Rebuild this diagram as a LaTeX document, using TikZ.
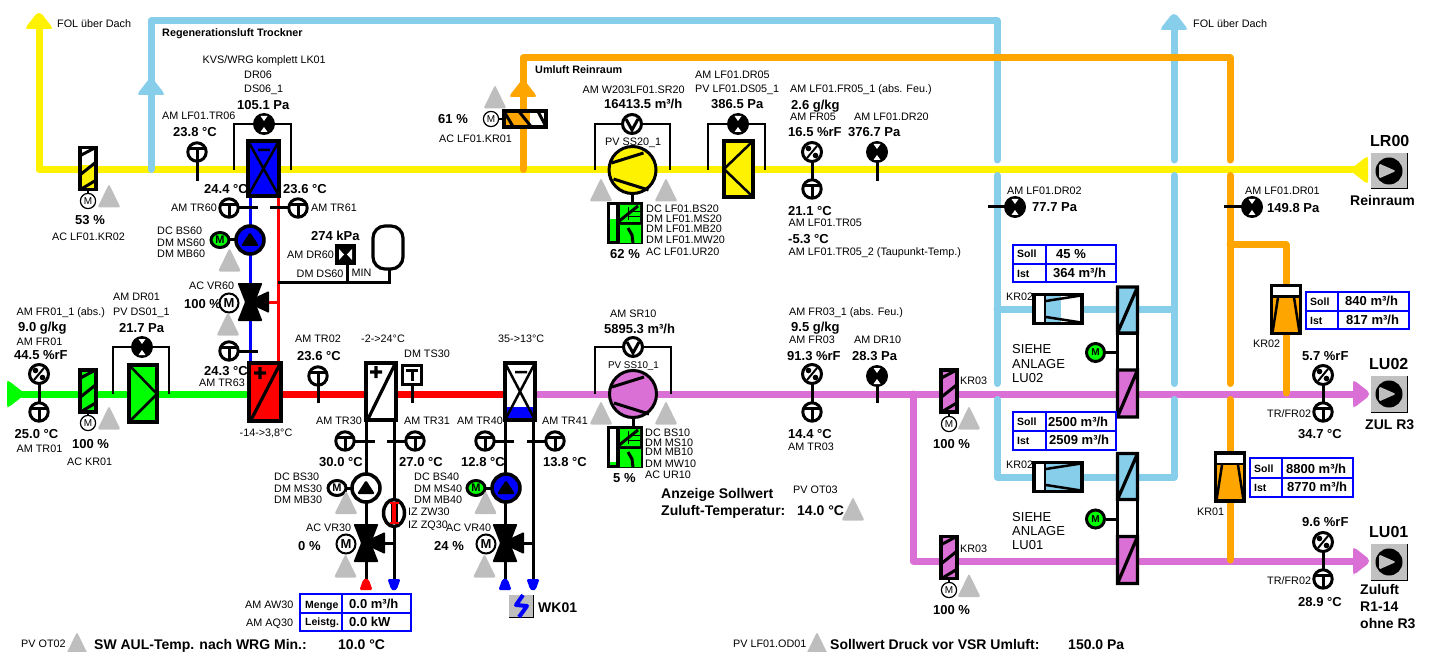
\documentclass[tikz,border=0pt]{standalone}
\usepackage{fontspec}
\setmainfont{Liberation Sans}
\definecolor{airsky}{HTML}{87CEEB}
\definecolor{airorange}{HTML}{FFA500}
\definecolor{airpink}{HTML}{DA70D6}
\definecolor{airgreen}{HTML}{00FF00}
\definecolor{pipeblue}{HTML}{0000FF}
\definecolor{pipered}{HTML}{FF0000}
\definecolor{warngray}{HTML}{BEBEBE}
\tikzset{
  pics/warn/.style={code={\fill[warngray,rounded corners=2pt] (-11.5,11.5) -- (11.5,11.5) -- (0,-12) -- cycle;}},
  pics/tip/.style={code={\fill[#1,rounded corners=2pt] (-13,16) -- (-13,14) -- (-2,0) -- (2,0) -- (13,14) -- (13,16) -- cycle;}},
  pics/ptip/.style={code={\fill[#1,rounded corners=1.5pt] (-6.5,12) -- (-3,2) -- (0,0) -- (3,2) -- (6.5,12) -- cycle;}},
  pics/tsens/.style={code={\draw[line width=3pt,fill=white] (0,0) circle[radius=9.2];
    \draw[line width=3pt] (-7,-3.5) -- (7,-3.5) (0,-3.5) -- (0,8);}},
  pics/tsquare/.style={code={\draw[line width=3pt,fill=white] (-9.5,-9.5) rectangle (9.5,9.5);
    \draw[line width=3pt] (-6,-4.5) -- (6,-4.5) (0,-4.5) -- (0,6);}},
  pics/hsens/.style={code={\draw[line width=3pt,fill=white] (0,0) circle[radius=9.5];
    \draw[line width=2pt] (5,-6) -- (-5,6);
    \fill (-3.5,-3.5) circle[radius=2.8] (3.5,3.5) circle[radius=2.8];}},
  pics/dsens/.style={code={\fill (0,0) circle[radius=11];
    \fill[white] (-3.5,-8) -- (3.5,-8) -- (0,-3) -- cycle (-3.5,8) -- (3.5,8) -- (0,3) -- cycle;}},
  pics/vsens/.style={code={\draw[line width=3pt,fill=white] (0,0) circle[radius=9.5];
    \draw[line width=3pt] (-6,-5) -- (0,6) -- (6,-5);}},
  pics/motthin/.style={code={\draw[line width=1.2pt,fill=white] (0,0) circle[radius=7.6];
    \node[inner sep=0pt,font=\fontsize{10}{10}\selectfont] (mt) at (0,0) {M};}},
  pics/motvalve/.style={code={\draw[line width=2pt,fill=white] (0,0) circle[radius=9.5];
    \node[inner sep=0pt,font=\fontsize{13}{13}\selectfont\bfseries] (mv) at (0,0) {M};}},
  pics/motpump/.style={code={\draw[line width=3pt,fill=#1] (0,0) ellipse[x radius=9,y radius=7.5];
    \node[inner sep=0pt,font=\fontsize{11}{11}\selectfont\bfseries] (mp) at (0,0) {M};}},
  pics/pump/.style={code={\draw[line width=3.5pt,fill=#1] (0,0) circle[radius=14];
    \fill[rounded corners=1.5pt] (-9,6) -- (9,6) -- (0,-8) -- cycle;}},
  pics/valve/.style={code={\fill[rounded corners=1pt] (-12.5,-19) -- (12.5,-19) -- (5,0) -- (12.5,19) -- (-12.5,19) -- (-5,0) -- cycle;
    \fill[rounded corners=1pt] (2,-3) -- (19,-11) -- (19,11) -- (2,3) -- cycle;}},
  pics/damper/.style 2 args={code={\fill[white] (-8,-21) rectangle (8,21);
    \fill[#1] (-8,21) rectangle (8,21-#2);
    \draw[line width=3pt] (-7.5,-13) -- (7.5,-21) (-7.5,6) -- (7.5,-6) (-7.5,21) -- (7.5,12);
    \draw[line width=3.2pt] (-8,-21) rectangle (8,21);}},
  pics/vsr/.style 2 args={code={\fill[white] (-14,-24) rectangle (14,24);
    \fill[#1] (-14,-13) rectangle (14,-13+#2);
    \draw[line width=2.5pt] (-8,-12) -- (-13.5,23) (8,-12) -- (13.5,23);
    \draw[line width=2.5pt] (-14,-13) -- (14,-13);
    \draw[line width=3.2pt] (-14.5,-24) rectangle (14.5,24);}},
  pics/fan/.style={code={\draw[line width=3pt,fill=#1] (0,0) circle[radius=23.5];
    \draw[line width=3pt] (-21,-7) -- (11,-17) (-19,9) -- (16,20);}},
  pics/convblock/.style={code={\fill (0,0) rectangle (36,42);
    \fill[white] (3,3) rectangle (9,39);
    \fill[airgreen] (3,39) rectangle (9,39-#1);
    \fill[airgreen] (13,3) rectangle (33,20) (13,23) rectangle (34,41);
    \draw[line width=.8pt] (21,5) -- (21,18) (21,9) -- (33,9) (21,14) -- (33,14);
    \draw[line width=3pt] (11,20) -- (31,4);
    \draw[line width=3pt] (21,26) -- (25,33) -- (26,41);}},
  pics/stack/.style={code={\draw[line width=3pt] (-12,65.5) -- (0,65.5);
    \draw[line width=3pt,fill=white] (0,46) rectangle (20,83);
    \fill[airsky] (0,0) rectangle (20,46);
    \fill[airpink] (0,83) rectangle (20,130);
    \draw[line width=3.2pt] (0,0) rectangle (20,46) (0,46) -- (20,0) (0,83) rectangle (20,130) (0,130) -- (20,83);
    \draw[line width=3pt,fill=airgreen] (-22,65.5) circle[radius=9];
    \node[inner sep=0pt,font=\fontsize{10}{10}\selectfont\bfseries] (ms) at (-22,65.5) {M};}},
  pics/fanbox/.style={code={\fill[warngray!95!white] (-18,-18) rectangle (18,18);
    \draw[line width=1pt] (18,-18) -- (18,18) -- (-18,18);
    \fill (0,0) circle[radius=13.5];
    \fill[warngray,rounded corners=1.5pt] (-10,-7.5) -- (7,0) -- (-10,7.5) -- cycle;}},
}
\begin{document}
\begin{tikzpicture}[x=1pt,y=-1pt,
  lbl/.style={anchor=west,inner sep=0pt,text height=7.8pt,text depth=0pt,font=\fontsize{10.8}{12}\selectfont},
  lblsm/.style={lbl,font=\fontsize{9.8}{11}\selectfont},
  val/.style={anchor=west,inner sep=0pt,text height=9.3pt,text depth=0pt,font=\fontsize{13}{14}\selectfont\bfseries},
  big/.style={val,text height=10pt,font=\fontsize{14}{15}\selectfont\bfseries},
  ttl/.style={val,text height=11.5pt,font=\fontsize{16}{17}\selectfont\bfseries},
  hdr/.style={anchor=west,inner sep=0pt,text height=7.4pt,text depth=0pt,font=\fontsize{10.5}{11}\selectfont\bfseries},
  sect/.style={hdr,font=\fontsize{10.8}{12}\selectfont\bfseries},
  sie/.style={anchor=west,inner sep=0pt,text height=9.3pt,text depth=0pt,font=\fontsize{13}{14}\selectfont},
  duct/.style={line width=7pt,line cap=round,line join=round},
  pipe/.style={line width=3pt},
  stem/.style={line width=3pt},
  bracket/.style={line width=1.8pt},
  coil/.style={line width=3.6pt},
  tablebox/.style={line width=2pt,draw=pipeblue,fill=white}]
\useasboundingbox (0,0) rectangle (1431,652);
% air ducts
\draw[duct,yellow] (39,30) -- (39,170) -- (1360,170);
\draw[duct,airgreen] (22,394) -- (250,394);
\draw[duct,pipered] (280,394) -- (506,394);
\draw[duct,airpink] (533,394) -- (1358,394);
\draw[duct,airpink] (913,394) -- (913,561) -- (1358,561);
\draw[duct,airsky] (151,169.5) -- (151,21) -- (997,21) -- (997,160);
\draw[duct,airsky] (997,175.5) -- (997,383.5);
\draw[duct,airsky] (997,399.5) -- (997,477) -- (1174,477) -- (1174,399.5);
\draw[duct,airsky] (1174,383.5) -- (1174,175.5);
\draw[duct,airsky] (1174,160) -- (1174,25);
\draw[duct,airsky] (997,309) -- (1174,309);
\draw[duct,airorange] (523,169.5) -- (523,58) -- (1230,58) -- (1230,160);
\draw[duct,airorange] (1230,175.5) -- (1230,383.5);
\draw[duct,airorange] (1230,399.5) -- (1230,560);
\draw[duct,airorange] (1230,245) -- (1286,245) -- (1286,393);
\pic at (39,13) {tip=yellow};
\pic at (151,79) {tip=airsky};
\pic at (1174,14) {tip=airsky};
\pic at (523,81) {tip=airorange};
\pic[rotate=90] at (1352,170) {tip=yellow}; % air back from the room
\pic[rotate=-90] at (23,394) {tip=airgreen};
\pic[rotate=-90] at (1369,394) {tip=airpink};
\pic[rotate=-90] at (1369,561) {tip=airpink};
% water pipes
\draw[pipe,pipeblue] (250,197) -- (250,362);
\draw[pipe,pipered] (278,197) -- (278,362);
\draw[pipe,pipered] (262,302) -- (278,302);
\draw[pipe] (278,282) -- (389,282) -- (389,268);
\draw[pipe] (347,262) -- (347,282);
\draw[pipe] (366,421) -- (366,580);
\draw[pipe] (394,421) -- (394,580);
\draw[pipe] (505,421) -- (505,580);
\draw[pipe] (533,421) -- (533,580);
\draw[pipe] (380,543) -- (394,543);
\draw[pipe] (520,543) -- (533,543);
\draw[pipe] (229,240) -- (240,240) (345,488) -- (355,488) (484,488) -- (495,488);
\pic at (366,578) {ptip=pipered};
\pic[rotate=180] at (394,591) {ptip=pipeblue};
\pic at (505,578) {ptip=pipeblue};
\pic[rotate=180] at (533,591) {ptip=pipeblue};
% sensors, stems first
\coordinate (tr06) at (197,152);
\coordinate (tr60) at (229,208);
\coordinate (tr61) at (298,208);
\coordinate (tr63) at (229,351);
\coordinate (fr01) at (39,374);
\coordinate (tr01) at (39,412);
\coordinate (dr01) at (142,347);
\coordinate (dr06) at (264,124);
\coordinate (tr02) at (318,376);
\coordinate (ts30) at (412,375);
\coordinate (tr30) at (345,441);
\coordinate (tr31) at (415,441);
\coordinate (tr40) at (485,441);
\coordinate (tr41) at (555,441);
\coordinate (ss20) at (632,124);
\coordinate (dr05) at (738,124);
\coordinate (fr05) at (812,152);
\coordinate (tr05) at (812,189);
\coordinate (dr20) at (877,152);
\coordinate (ss10) at (633,347);
\coordinate (fr03) at (812,374);
\coordinate (tr03) at (812,412);
\coordinate (dr10) at (877,376);
\coordinate (lfdr02) at (1015,207);
\coordinate (lfdr01) at (1252,207);
\coordinate (fr21) at (1323,375);
\coordinate (tr21) at (1323,412);
\coordinate (fr22) at (1323,542);
\coordinate (tr22) at (1323,579);
\draw[stem] (tr06) -- ++(0,29);
\draw[stem] (tr60) -- ++(29,0);
\draw[stem] (tr61) -- ++(-28,0);
\draw[stem] (tr63) -- ++(29,0);
\draw[stem] (fr01) -- (tr01);
\draw[stem] (tr02) -- ++(0,27);
\draw[stem] (ts30) -- ++(0,28);
\draw[stem] (tr30) -- ++(30,0);
\draw[stem] (tr31) -- ++(-28,0);
\draw[stem] (tr40) -- ++(29,0);
\draw[stem] (tr41) -- ++(-28,0);
\draw[stem] (fr05) -- (tr05);
\draw[stem] (dr20) -- ++(0,29);
\draw[stem] (fr03) -- (tr03);
\draw[stem] (dr10) -- ++(0,27);
\draw[stem] (lfdr02) -- ++(-27,0);
\draw[stem] (lfdr01) -- ++(-28,0);
\draw[stem] (fr21) -- (tr21);
\draw[stem] (fr22) -- (tr22);
\draw[bracket] (234,170) |- (dr06) -| (291,170);
\draw[bracket] (113,394) |- (dr01) -| (169,394);
\draw[bracket] (595,170) |- (ss20) -| (670,170);
\draw[bracket] (708,170) |- (dr05) -| (765,170);
\draw[bracket] (595,394) |- (ss10) -| (671,394);
\foreach \s in {tr06,tr60,tr61,tr63,tr01,tr02,tr30,tr31,tr40,tr41,tr05,tr03,tr21,tr22} \pic at (\s) {tsens};
\foreach \s in {fr01,fr05,fr03,fr21,fr22} \pic at (\s) {hsens};
\foreach \s in {dr01,dr06,dr05,dr20,dr10,lfdr02,lfdr01} \pic at (\s) {dsens};
\foreach \s in {ss20,ss10} \pic at (\s) {vsens};
\pic at (ts30) {tsquare};
% dampers
\pic at (88,168.5) {damper={yellow}{24}};
\pic at (88,391) {damper={airgreen}{42}};
\pic[rotate=-90] at (525,119) {damper={airorange}{26}};
\pic at (949,391) {damper={airpink}{42}};
\pic at (949,557.5) {damper={airpink}{42}};
\draw[line width=1.2pt] (88,190) -- (88,194) (88,412) -- (88,416) (949,412) -- (949,416) (949,578) -- (949,582) (498,119) -- (503,119);
\pic at (88,201) {motthin};
\pic at (88,423) {motthin};
\pic at (491,119) {motthin};
\pic at (949,424) {motthin};
\pic at (949,590) {motthin};
\pic[rotate=90] at (1058,309) {vsr={airsky}{16}};
\pic[rotate=90] at (1058,477) {vsr={airsky}{37}};
\pic at (1286,309.5) {vsr={airorange}{37}};
\pic at (1230,477) {vsr={airorange}{37}};
% coils and filters
\draw[coil,fill=airgreen] (129,365) rectangle (157,422);
\draw[line width=2.5pt] (129,365) -- (157,394) -- (129,422);
\draw[coil,fill=yellow] (724,141) rectangle (753,197);
\draw[line width=2.5pt] (753,141) -- (724,169) -- (753,197);
\draw[coil,fill=pipeblue] (248,141) rectangle (279,196);
\draw[line width=2.5pt] (248,141) -- (279,196) (279,141) -- (248,196) (258,150) -- (270,150);
\draw[coil,fill=pipered] (249,363) rectangle (281,421);
\draw[line width=3.2pt] (251,420) -- (280,364) (254,373) -- (266,373) (260,367) -- (260,379);
\draw[coil,fill=white] (366,363) rectangle (396,420);
\draw[line width=3.2pt] (368,419) -- (395,364) (370,372) -- (382,372) (376,366) -- (376,378);
\fill[white] (505,363) rectangle (535,407);
\fill[pipeblue] (505,407) rectangle (535,420);
\draw[coil] (505,363) rectangle (535,420);
\draw[line width=2.5pt] (505,363) -- (535,420) (535,363) -- (505,420) (515,372) -- (527,372);
% fans with their converters
\pic at (632.5,170) {fan=yellow};
\pic at (633,394) {fan=airpink};
\draw[pipe] (632.5,193) -- (632.5,203) (633,418) -- (633,426);
\pic at (607,202) {convblock=22};
\pic at (607,426) {convblock=3};
% pumps, valves, vessel
\pic at (250,240) {pump=pipeblue};
\pic at (366,488) {pump=white};
\pic at (506,488) {pump=pipeblue};
\pic at (220,240) {motpump=airgreen};
\pic at (337,488) {motpump=white};
\pic at (476,488) {motpump=airgreen};
\pic at (250,302) {valve};
\pic at (366,543) {valve};
\pic at (505,543) {valve};
\pic at (229,303) {motvalve};
\pic at (346,544) {motvalve};
\pic at (486,544) {motvalve};
\draw[line width=3.2pt,fill=white,rounded corners=12pt] (373,226) rectangle (403,269);
\fill (335,244) rectangle (356,265);
\fill[white] (339,249) -- (339,260) -- (344,254.5) -- cycle (352,249) -- (352,260) -- (347,254.5) -- cycle;
\draw[line width=3.5pt,fill=white] (394,513) ellipse[x radius=10.5,y radius=13.5];
\draw[line width=7pt] (394,504) -- (394,522);
\draw[line width=4pt,pipered] (394,503) -- (394,523);
\draw[line width=1.8pt,pipered] (389.5,503) -- (398.5,503) (389.5,523) -- (398.5,523);
% air handling stacks
\pic at (1117.5,287) {stack};
\pic at (1117.5,453.5) {stack};
% outlet boxes
\pic at (1389,171) {fanbox};
\pic at (1389,394) {fanbox};
\pic at (1389,562) {fanbox};
\fill[warngray] (509,595) rectangle (533,617);
\draw[line width=1pt] (533,595) -- (533,617) -- (509,617);
\draw[line width=4pt,pipeblue,line join=round] (523,595) -- (516,605) -- (527,606) -- (519,617);
% flow tables
\draw[tablebox] (300,594) rectangle (411,631) (300,612.5) -- (411,612.5) (342,594) -- (342,631);
\draw[tablebox] (1013,245) rectangle (1116,282) (1013,263.5) -- (1116,263.5) (1046,245) -- (1046,282);
\draw[tablebox] (1013,412) rectangle (1116,450) (1013,431) -- (1116,431) (1046,412) -- (1046,450);
\draw[tablebox] (1306,292) rectangle (1409,329) (1306,310.5) -- (1409,310.5) (1338,292) -- (1338,329);
\draw[tablebox] (1250,458) rectangle (1353,497) (1250,477.5) -- (1353,477.5) (1282,458) -- (1282,497);
% warning triangles
\foreach \x/\y in {109/196,229.5/260,228/324,109/418,495/97,601/190,666/190,601/413,666/413,346/502.5,345.5/566,485.5/502.5,484.5/566,969/418,969/585.5,853/509,77/644,817/644}
  \pic at (\x,\y) {warn};
% texts left part
\node[lbl] (folA) at (57,23.5) {FOL über Dach};
\node[lbl] (folB) at (1193,23.5) {FOL über Dach};
\node[sect] (regen) at (162,33) {Regenerationsluft Trockner};
\node[sect] (umluft) at (535,70) {Umluft Reinraum};
\node[lbl] (kvs) at (202.5,60) {KVS/WRG komplett LK01};
\node[lbl] (dr06a) at (244,74.5) {DR06};
\node[lbl] (ds06) at (244,89) {DS06\_1};
\node[val] (dr06v) at (237,104.5) {105.1 Pa};
\node[lbl] (tr06a) at (162,116) {AM LF01.TR06};
\node[val] (tr06v) at (173,131.5) {23.8 °C};
\node[val] (tr60v) at (204,189) {24.4 °C};
\node[val] (tr61v) at (283,189) {23.6 °C};
\node[lbl] (tr60a) at (171,208) {AM TR60};
\node[lbl] (tr61a) at (311,208) {AM TR61};
\node[lbl] (bs60) at (157,231) {DC BS60};
\node[lbl] (ms60) at (157,242.5) {DM MS60};
\node[lbl] (mb60) at (157,253.5) {DM MB60};
\node[val] (kr02v) at (75,220) {53 \%};
\node[lbl] (kr02a) at (52,237) {AC LF01.KR02};
\node[val] (dr60v) at (311,236) {274 kPa};
\node[lbl] (dr60a) at (287,254.5) {AM DR60};
\node[lbl] (ds60a) at (296.5,274) {DM DS60};
\node[lbl] (min) at (351.5,273) {MIN};
\node[lbl] (vr60a) at (189,285.5) {AC VR60};
\node[val] (vr60v) at (184,304) {100 \%};
\node[lbl] (dr01a) at (113,297) {AM DR01};
\node[lbl] (ds01a) at (113,312) {PV DS01\_1};
\node[lbl] (fr01b) at (16.5,312) {AM FR01\_1 (abs.)};
\node[val] (fr01w) at (18,327) {9.0 g/kg};
\node[lbl] (fr01a) at (16.5,342) {AM FR01};
\node[val] (fr01v) at (14,355) {44.5 \%rF};
\node[val] (dr01v) at (119,328) {21.7 Pa};
\node[val] (tr01v) at (14.5,434) {25.0 °C};
\node[lbl] (tr01a) at (16.5,449) {AM TR01};
\node[val] (kr01v) at (72,444) {100 \%};
\node[lbl] (kr01a) at (67,462) {AC KR01};
\node[val] (tr63v) at (204,371) {24.3 °C};
\node[lbl] (tr63a) at (199,383) {AM TR63};
\node[lbl] (rng1) at (239.5,433) {-14->3,8°C};
% texts middle part
\node[lbl] (tr02a) at (295,339) {AM TR02};
\node[val] (tr02v) at (297,355.5) {23.6 °C};
\node[lbl] (rng2) at (361,339) {-2->24°C};
\node[lbl] (rng3) at (498,339) {35->13°C};
\node[lbl] (ts30a) at (404,354) {DM TS30};
\node[lbl] (tr30a) at (316,421) {AM TR30};
\node[lbl] (tr31a) at (404,421) {AM TR31};
\node[lbl] (tr40a) at (457,421) {AM TR40};
\node[lbl] (tr41a) at (542,421) {AM TR41};
\node[val] (tr30v) at (319,462) {30.0 °C};
\node[val] (tr31v) at (399,462) {27.0 °C};
\node[val] (tr40v) at (461,462) {12.8 °C};
\node[val] (tr41v) at (543,462) {13.8 °C};
\node[lbl] (bs30) at (274,477) {DC BS30};
\node[lbl] (ms30) at (274,489) {DM MS30};
\node[lbl] (mb30) at (274,500) {DM MB30};
\node[lbl] (bs40) at (414,477) {DC BS40};
\node[lbl] (ms40) at (414,489) {DM MS40};
\node[lbl] (mb40) at (414,500) {DM MB40};
\node[lbl] (zw30) at (408,512) {IZ ZW30};
\node[lbl] (zq30) at (408,525) {IZ ZQ30};
\node[lbl] (vr30a) at (306,528) {AC VR30};
\node[val] (vr30v) at (298,546) {0 \%};
\node[lbl] (vr40a) at (446,528) {AC VR40};
\node[val] (vr40v) at (434,546) {24 \%};
\node[lbl] (aw30) at (245,605) {AM AW30};
\node[lbl] (aq30) at (246,623) {AM AQ30};
\node[hdr] (menge) at (305,604.5) {Menge};
\node[hdr] (leist) at (305,622) {Leistg.};
\node[val] (mengev) at (349,604) {0.0 m³/h};
\node[val] (leistv) at (349,622) {0.0 kW};
\node[big] (wk01) at (538,607) {WK01};
\node[lbl] (ot02) at (21,644) {PV OT02};
\node[big] (swaul) at (94,644) {SW AUL-Temp. nach WRG Min.:};
\node[big] (ot02v) at (338,644) {10.0 °C};
\node[lbl] (od01) at (733,644) {PV LF01.OD01};
\node[big] (swdr) at (830,644) {Sollwert Druck vor VSR Umluft:};
\node[big] (od01v) at (1068,644) {150.0 Pa};
% texts round the fans
\node[val] (kr01w) at (438,119) {61 \%};
\node[lbl] (kr01b) at (439,139) {AC LF01.KR01};
\node[lbl] (sr20a) at (582.5,90) {AM W203LF01.SR20};
\node[val] (sr20v) at (604,104) {16413.5 m³/h};
\node[lbl] (dr05a) at (695,75) {AM LF01.DR05};
\node[lbl] (ds05a) at (695,89) {PV LF01.DS05\_1};
\node[val] (dr05v) at (711,104) {386.5 Pa};
\node[lbl] (fr05b) at (790,89) {AM LF01.FR05\_1 (abs. Feu.)};
\node[val] (fr05w) at (791,105) {2.6 g/kg};
\node[lbl] (fr05a) at (790,117) {AM FR05};
\node[val] (fr05v) at (788,132) {16.5 \%rF};
\node[lbl] (dr20a) at (854,117) {AM LF01.DR20};
\node[val] (dr20v) at (848,132) {376.7 Pa};
\node[lbl] (ss20a) at (605,142) {PV SS20\_1};
\node[val] (tr05v) at (788,211) {21.1 °C};
\node[lbl] (tr05a) at (788.5,223) {AM LF01.TR05};
\node[val] (tr05w) at (788,239) {-5.3 °C};
\node[lbl] (tr05b) at (788.5,252) {AM LF01.TR05\_2 (Taupunkt-Temp.)};
\node[val] (ur20v) at (610,254) {62 \%};
\node[lbl] (bs20) at (646,209) {DC LF01.BS20};
\node[lbl] (ms20) at (646,219) {DM LF01.MS20};
\node[lbl] (mb20) at (646,229) {DM LF01.MB20};
\node[lbl] (mw20) at (646,240) {DM LF01.MW20};
\node[lbl] (ur20) at (646,252) {AC LF01.UR20};
\node[lbl] (sr10a) at (610,314) {AM SR10};
\node[val] (sr10v) at (604,329) {5895.3 m³/h};
\node[lblsm] (ss10a) at (608,365) {PV SS10\_1};
\node[lbl] (bs10) at (645,433) {DC BS10};
\node[lbl] (ms10) at (645,443) {DM MS10};
\node[lbl] (mb10) at (645,452) {DM MB10};
\node[lbl] (mw10) at (645,464) {DM MW10};
\node[lbl] (ur10) at (645,475) {AC UR10};
\node[val] (ur10v) at (613,478) {5 \%};
\node[lbl] (fr03b) at (789,312) {AM FR03\_1 (abs. Feu.)};
\node[val] (fr03w) at (791,327) {9.5 g/kg};
\node[lbl] (fr03a) at (789,340) {AM FR03};
\node[val] (fr03v) at (787,356) {91.3 \%rF};
\node[lbl] (dr10a) at (854,340) {AM DR10};
\node[val] (dr10v) at (852,356) {28.3 Pa};
\node[val] (tr03v) at (788,434) {14.4 °C};
\node[lbl] (tr03a) at (788,447) {AM TR03};
\node[lbl] (kr03a) at (960,381) {KR03};
\node[val] (kr03v) at (933,444) {100 \%};
\node[lbl] (kr03b) at (960,549) {KR03};
\node[val] (kr03w) at (933,610) {100 \%};
\node[big] (anz) at (661,493) {Anzeige Sollwert};
\node[big] (zul) at (661,510) {Zuluft-Temperatur:};
\node[big] (ot03v) at (797,510) {14.0 °C};
\node[lbl] (ot03) at (793,490) {PV OT03};
% texts right part
\node[lbl] (lfdr02a) at (1007,191) {AM LF01.DR02};
\node[val] (lfdr02v) at (1032,207) {77.7 Pa};
\node[lbl] (lfdr01a) at (1245,191) {AM LF01.DR01};
\node[val] (lfdr01v) at (1267,208) {149.8 Pa};
\node[hdr] (sollA) at (1017,254) {Soll};
\node[hdr] (istA) at (1017,274) {Ist};
\node[val] (sollAv) at (1056,254) {45 \%};
\node[val] (istAv) at (1053,273) {364 m³/h};
\node[lbl] (kr02b) at (1006,297) {KR02};
\node[sie] (sieA) at (1012,349) {SIEHE};
\node[sie] (anlA) at (1012,364) {ANLAGE};
\node[sie] (luA) at (1012,378) {LU02};
\node[hdr] (sollB) at (1017,422) {Soll};
\node[hdr] (istB) at (1017,441) {Ist};
\node[val] (sollBv) at (1048,422) {2500 m³/h};
\node[val] (istBv) at (1049,440) {2509 m³/h};
\node[lbl] (kr02c) at (1006,465) {KR02};
\node[sie] (sieB) at (1012,517) {SIEHE};
\node[sie] (anlB) at (1012,531) {ANLAGE};
\node[sie] (luB) at (1012,545) {LU01};
\node[ttl] (lr00) at (1370,141) {LR00};
\node[big] (reinr) at (1350,201) {Reinraum};
\node[lbl] (kr02d) at (1253,344) {KR02};
\node[hdr] (sollC) at (1310,302) {Soll};
\node[hdr] (istC) at (1310,321) {Ist};
\node[val] (sollCv) at (1345,300.5) {840 m³/h};
\node[val] (istCv) at (1346,320) {817 m³/h};
\node[val] (fr21v) at (1302,356) {5.7 \%rF};
\node[ttl] (lu02) at (1369,364) {LU02};
\node[lbl] (trfrA) at (1267,414) {TR/FR02};
\node[val] (tr21v) at (1298,434) {34.7 °C};
\node[big] (zulr) at (1365,424) {ZUL R3};
\node[lbl] (kr01c) at (1197,512) {KR01};
\node[hdr] (sollD) at (1254,469) {Soll};
\node[hdr] (istD) at (1254,488) {Ist};
\node[val] (sollDv) at (1286,469) {8800 m³/h};
\node[val] (istDv) at (1287,487) {8770 m³/h};
\node[val] (fr22v) at (1302,522) {9.6 \%rF};
\node[ttl] (lu01) at (1369,532) {LU01};
\node[lbl] (trfrB) at (1267,581) {TR/FR02};
\node[val] (tr22v) at (1298,602) {28.9 °C};
\node[big] (zulA) at (1360,589) {Zuluft};
\node[big] (zulB) at (1360,606) {R1-14};
\node[big] (zulC) at (1360,623) {ohne R3};
\end{tikzpicture}
\end{document}
